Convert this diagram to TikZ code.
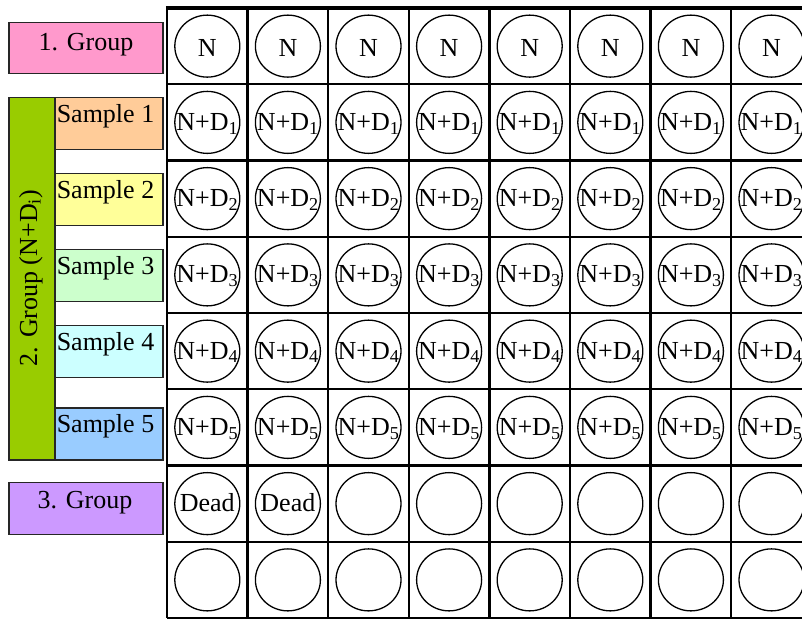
\documentclass[tikz,border=0pt]{standalone}
\usepackage{fontspec}
\setmainfont{Liberation Serif}
\usetikzlibrary{shapes.geometric}
\definecolor{gonecol}{HTML}{FF99CC}
\definecolor{gtwocol}{HTML}{99CC00}
\definecolor{gthreecol}{HTML}{CC99FF}
\definecolor{sonecol}{HTML}{FFCC99}
\definecolor{stwocol}{HTML}{FFFF99}
\definecolor{sthreecol}{HTML}{CCFFCC}
\definecolor{sfourcol}{HTML}{CCFFFF}
\definecolor{sfivecol}{HTML}{99CCFF}
\begin{document}
\begin{tikzpicture}[x=1pt,y=-1pt]
\tikzset{
  lbl/.style={font=\fontsize{26}{31}\selectfont, inner sep=0pt},
  lbox/.style={draw=black!85, line width=1.2pt, inner sep=0pt, anchor=north west},
  well/.style={draw, ellipse, line width=1.3pt, minimum width=65pt, minimum height=62pt, inner sep=0pt},
  gridline/.style={line width=2.3pt},
}
\useasboundingbox (0,0) rectangle (802,621);
\begin{scope}
\clip (0,0) rectangle (802,621);
% grid
\foreach \k in {0,...,8} \draw[gridline] ({167+80.6*\k},8) -- ({167+80.6*\k},618);
\foreach \k in {1,...,8} \draw[gridline] (167,{8+76.25*\k}) -- (812,{8+76.25*\k});
\draw[line width=3.4pt] (165.8,8) -- (812,8);
% wells
\foreach \r in {1,...,8}{
  \foreach \c in {1,...,8}{
    \node[well] (e\r-\c) at ({167+80.6*(\c-0.5)},{8+76.25*(\r-0.5)}) {};
  }
}
% labels in wells
\foreach \c in {1,...,8}{
  \node[lbl, anchor=base] (t1-\c) at ({167+80.6*(\c-0.5)},{8+76.25*0.5+10.5}) {N};
}
\foreach \r/\s in {2/1,3/2,4/3,5/4,6/5}{
  \foreach \c in {1,...,8}{
    \node[lbl, anchor=base] (t\r-\c) at ({167+80.6*(\c-0.5)},{8+76.25*(\r-0.5)+8}) {N+D\textsubscript{\s}};
  }
}
\foreach \c in {1,2}{
  \node[lbl, anchor=base] (t7-\c) at ({167+80.6*(\c-0.5)},{8+76.25*6.5+8}) {Dead};
}
\end{scope}
% left legend boxes
\node[lbox, fill=gonecol, minimum width=154pt, minimum height=51pt] (g1) at (8.3,21.7) {};
\node[lbl, anchor=base] (g1t) at (86,50) {1. Group};
\node[lbox, fill=gtwocol, minimum width=46pt, minimum height=362.6pt] (g2) at (8.3,96.7) {};
\node[lbl, rotate=90, anchor=base] (g2t) at (37,278) {2. Group (N+D\textsubscript{i})};
\foreach \n/\t/\col in {1/96.7/sonecol,2/172.7/stwocol,3/249/sthreecol,4/325/sfourcol,5/407.3/sfivecol}{
  \node[lbox, fill=\col, minimum width=108pt, minimum height=52pt] (s\n) at (54.3,\t) {};
  \node[lbl, anchor=base] (s\n t) at (105.5,{\t+25.5}) {Sample \n};
}
\node[lbox, fill=gthreecol, minimum width=154pt, minimum height=52pt] (g3) at (8.3,481.7) {};
\node[lbl, anchor=base] (g3t) at (85,508.3) {3. Group};
\end{tikzpicture}
\end{document}
